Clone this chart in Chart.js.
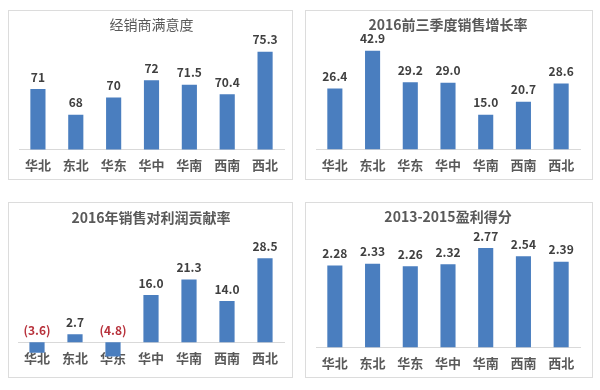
<!DOCTYPE html>
<html>
<head>
<meta charset="utf-8">
<script src="https://cdn.jsdelivr.net/npm/chart.js@4/dist/chart.umd.min.js"></script>
<style>
    html, body { margin: 0; padding: 0; background: #fff; }
    body { width: 600px; height: 390px; position: relative; overflow: hidden; }
    .panel { position: absolute; border: 1px solid #dcdcdc; box-sizing: border-box; background: #fff; }
    .panel canvas { position: absolute; left: 0; top: 0; }
</style>
</head>
<body>
<div class="panel" id="p1" style="left:8px;top:10px;width:285px;height:170px"><canvas id="c1"></canvas></div>
<div class="panel" id="p2" style="left:305px;top:10px;width:288px;height:170px"><canvas id="c2"></canvas></div>
<div class="panel" id="p3" style="left:8px;top:202px;width:285px;height:176px"><canvas id="c3"></canvas></div>
<div class="panel" id="p4" style="left:305px;top:202px;width:288px;height:176px"><canvas id="c4"></canvas></div>
<script>
// regions
const regions = ['华北', '东北', '华东', '华中', '华南', '西南', '西北'];

// 经销商满意度
const satisfaction = [71, 68, 70, 72, 71.5, 70.4, 75.3];
// 2016前三季度销售增长率
const salesGrowth = [26.4, 42.9, 29.2, 29.0, 15.0, 20.7, 28.6];
// 2016年销售对利润贡献率
const profitContribution = [-3.6, 2.7, -4.8, 16.0, 21.3, 14.0, 28.5];
// 2013-2015盈利得分
const profitScore = [2.28, 2.33, 2.26, 2.32, 2.77, 2.54, 2.39];

const titles = ['经销商满意度', '2016前三季度销售增长率', '2016年销售对利润贡献率', '2013-2015盈利得分'];

const BAR = '#4a7ebf';
const FONT = '"Noto Sans CJK SC", "Noto Sans", sans-serif';

// simple value labels above each bar (negatives shown in brackets, red)
const valueLabels = {
    id: 'valueLabels',
    afterDatasetsDraw(chart, args, opts) {
        const ctx = chart.ctx;
        const meta = chart.getDatasetMeta(0);
        const values = chart.data.datasets[0].data;
        ctx.save();
        ctx.font = 'bold 12px ' + FONT;
        ctx.textAlign = 'center';
        ctx.textBaseline = 'middle';
        meta.data.forEach((bar, i) => {
            const v = values[i];
            const top = Math.min(bar.y, bar.base);
            ctx.fillStyle = v < 0 ? '#b8323c' : '#404040';
            ctx.fillText(opts.format(v), bar.x, top - 12);
        });
        ctx.restore();
    }
};

function makeChart(id, w, h, values, opt) {
    const canvas = document.getElementById(id);
    canvas.width = w;
    canvas.height = h;
    canvas.style.width = w + 'px';
    canvas.style.height = h + 'px';
    return new Chart(canvas.getContext('2d'), {
        type: 'bar',
        data: {
            labels: regions,
            datasets: [{
                data: values,
                backgroundColor: BAR,
                barPercentage: 0.8,
                categoryPercentage: 0.5
            }]
        },
        options: {
            responsive: false,
            animation: false,
            devicePixelRatio: 1,
            layout: { padding: opt.padding },
            plugins: {
                legend: { display: false },
                tooltip: { enabled: false },
                title: {
                    display: true,
                    text: opt.title,
                    color: '#595959',
                    font: { family: FONT, size: 14, weight: opt.titleWeight },
                    padding: opt.titlePadding
                },
                valueLabels: { format: opt.format }
            },
            scales: {
                x: {
                    z: 1,
                    position: opt.xPos || 'bottom',
                    grid: { display: false, drawTicks: false },
                    border: { display: true, color: '#d9d9d9' },
                    ticks: {
                        color: '#595959',
                        padding: 8,
                        font: { family: FONT, size: 13, weight: 'bold' }
                    }
                },
                y: {
                    display: false,
                    min: opt.min,
                    max: opt.max
                }
            }
        },
        plugins: [valueLabels]
    });
}

makeChart('c1', 285, 170, satisfaction, {
    title: titles[0], titleWeight: 'normal',
    titlePadding: { top: 5, bottom: 13 },
    padding: { left: 10, right: 10, bottom: 0 },
    min: 64, max: 76,
    format: v => String(v)
});

makeChart('c2', 288, 170, salesGrowth, {
    title: titles[1], titleWeight: 'bold',
    titlePadding: { top: 5, bottom: 13 },
    padding: { left: 10, right: 14, bottom: 0 },
    min: 0, max: 45,
    format: v => v.toFixed(1)
});

// axis sits on the zero line, so the category labels overlap the negative bars
makeChart('c3', 285, 176, profitContribution, {
    title: titles[2], titleWeight: 'bold',
    titlePadding: { top: 6, bottom: 28 },
    padding: { left: 9, right: 10, bottom: 22 },
    min: -5, max: 30, xPos: { y: 0 },
    format: v => v < 0 ? '(' + Math.abs(v).toFixed(1) + ')' : v.toFixed(1)
});

makeChart('c4', 288, 176, profitScore, {
    title: titles[3], titleWeight: 'bold',
    titlePadding: { top: 5, bottom: 15 },
    padding: { left: 10, right: 14, bottom: 0 },
    min: 0, max: 3,
    format: v => v.toFixed(2)
});
</script>
</body>
</html>
